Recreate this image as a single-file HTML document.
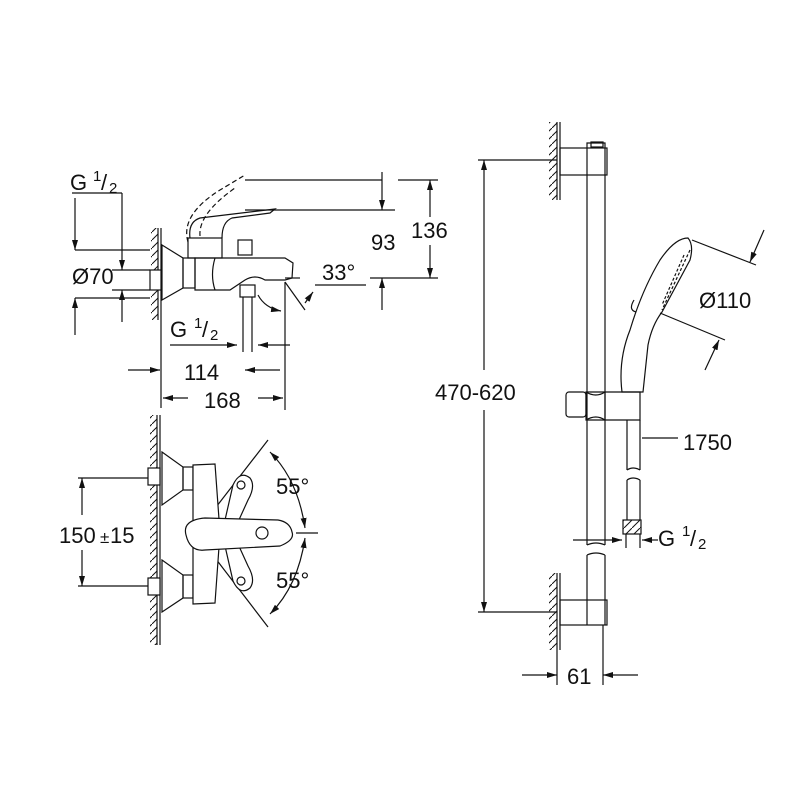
<!DOCTYPE html>
<html><head><style>body{margin:0;background:#fff}svg{display:block}text{font-family:"Liberation Sans",sans-serif;fill:#111}</style></head><body>
<svg width="800" height="800" viewBox="0 0 800 800" xmlns="http://www.w3.org/2000/svg">
<defs><marker id="a" viewBox="0 0 10 6" refX="10" refY="3" markerWidth="10" markerHeight="6" orient="auto-start-reverse" markerUnits="userSpaceOnUse"><path d="M0,0L10,3L0,6z" fill="#111"/></marker>
<pattern id="h" width="8" height="8" patternUnits="userSpaceOnUse"><path d="M0,8L8,0" stroke="#111" stroke-width="1"/></pattern></defs>
<g stroke="#111" stroke-width="1.2" fill="none">
<!-- upper mixer side view -->
<rect x="151" y="228" width="7" height="92" fill="url(#h)" stroke="none"/>
<line x1="158" y1="228" x2="158" y2="320"/><line x1="161" y1="228" x2="161" y2="320"/>
<rect x="150" y="270" width="11" height="20" fill="#fff"/>
<path d="M162,245L183,258L183,288L162,300Z"/>
<rect x="183" y="258" width="12" height="30"/>
<path d="M195,258H285L293,263L292,278L285,280H265Q255,274 245,280L230,290H195Z"/>
<path d="M215,258Q210,275 215,290"/>
<rect x="188" y="238" width="34" height="20"/>
<path d="M190,238Q188,222 200,218L275,209L270,213L232,218Q222,222 222,238"/>
<path d="M188,242Q180,215 220,190L245,175" stroke-dasharray="5,3"/>
<path d="M200,236Q198,214 235,188" stroke-dasharray="5,3"/>
<rect x="238" y="240" width="14" height="15"/>
<rect x="240" y="285" width="15" height="12"/>
<line x1="243" y1="297" x2="243" y2="352"/><line x1="252" y1="297" x2="252" y2="352"/>
<!-- dims upper -->
<line x1="75" y1="250" x2="150" y2="250"/><line x1="75" y1="298" x2="150" y2="298"/>
<line x1="75" y1="198" x2="75" y2="250" marker-end="url(#a)"/><line x1="75" y1="335" x2="75" y2="298" marker-end="url(#a)"/>
<line x1="72" y1="193" x2="122" y2="193"/><line x1="122" y1="193" x2="122" y2="270" marker-end="url(#a)"/>
<line x1="122" y1="322" x2="122" y2="290" marker-end="url(#a)"/>
<line x1="112" y1="270" x2="150" y2="270"/><line x1="112" y1="290" x2="150" y2="290"/>
<line x1="245" y1="180" x2="382" y2="180"/><line x1="245" y1="210" x2="395" y2="210"/>
<line x1="382" y1="172" x2="382" y2="210" marker-end="url(#a)"/>
<line x1="398" y1="180" x2="438" y2="180"/><line x1="430" y1="180" x2="430" y2="217" marker-start="url(#a)"/>
<line x1="430" y1="245" x2="430" y2="278" marker-end="url(#a)"/>
<line x1="285" y1="278" x2="300" y2="278"/><line x1="370" y1="278" x2="438" y2="278"/>
<line x1="382" y1="310" x2="382" y2="278" marker-end="url(#a)"/>
<path d="M285,282L305,310"/><line x1="315" y1="285" x2="366" y2="285"/>
<line x1="313" y1="292" x2="305" y2="303" marker-start="url(#a)"/>
<path d="M258,295Q265,308 281,311" marker-end="url(#a)"/>
<line x1="285" y1="282" x2="285" y2="410"/>
<line x1="170" y1="345" x2="237" y2="345" marker-end="url(#a)"/><line x1="290" y1="345" x2="258" y2="345" marker-end="url(#a)"/>
<line x1="128" y1="370" x2="160" y2="370" marker-end="url(#a)"/><line x1="280" y1="370" x2="245" y2="370" marker-end="url(#a)"/>
<line x1="161" y1="320" x2="161" y2="408"/>
<line x1="188" y1="398" x2="163" y2="398" marker-end="url(#a)"/><line x1="258" y1="398" x2="283" y2="398" marker-end="url(#a)"/>
<!-- lower mixer top view -->
<rect x="150" y="415" width="7" height="230" fill="url(#h)" stroke="none"/>
<line x1="157" y1="415" x2="157" y2="645"/><line x1="160" y1="415" x2="160" y2="645"/>
<rect x="148" y="468" width="12" height="17" fill="#fff"/><rect x="148" y="578" width="12" height="17" fill="#fff"/>
<path d="M162,452L183,467L183,490L162,505Z"/><path d="M162,560L183,575L183,598L162,612Z"/>
<rect x="183" y="467" width="10" height="23"/><rect x="183" y="575" width="10" height="23"/>
<line x1="196" y1="533" x2="268" y2="440"/><line x1="196" y1="533" x2="268" y2="627"/>
<path d="M193,465L215,464L220,533L215,603L193,604Z" fill="#fff"/>
<path d="M225,520L233,485Q240,470 250,478Q256,486 248,500L238,522Z" fill="#fff"/>
<path d="M225,546L233,581Q240,596 250,588Q256,580 248,566L238,544Z" fill="#fff"/>
<circle cx="241" cy="485" r="4"/><circle cx="241" cy="581" r="4"/>
<path d="M205,518Q182,520 186,535Q190,552 205,550L280,546Q295,540 292,532Q290,522 278,520Z" fill="#fff"/>
<circle cx="262" cy="533" r="6"/>
<line x1="296" y1="533" x2="318" y2="533"/>
<path d="M270,452Q298,480 305,528" marker-start="url(#a)" marker-end="url(#a)"/>
<path d="M270,614Q298,586 305,538" marker-start="url(#a)" marker-end="url(#a)"/>
<line x1="78" y1="478" x2="148" y2="478"/><line x1="78" y1="586" x2="148" y2="586"/>
<line x1="82" y1="515" x2="82" y2="478" marker-end="url(#a)"/><line x1="82" y1="550" x2="82" y2="586" marker-end="url(#a)"/>
<!-- shower rail -->
<rect x="549" y="122" width="8" height="78" fill="url(#h)" stroke="none"/>
<line x1="557" y1="122" x2="557" y2="200"/><line x1="560" y1="122" x2="560" y2="200"/>
<rect x="549" y="573" width="8" height="77" fill="url(#h)" stroke="none"/>
<line x1="557" y1="573" x2="557" y2="650"/><line x1="560" y1="573" x2="560" y2="650"/>
<rect x="560" y="148" width="47" height="27"/><rect x="560" y="600" width="47" height="25"/>
<path d="M587,545V143H605V545"/><path d="M587,545Q596,541 605,545"/>
<path d="M587,555V625M605,555V625"/><path d="M587,555Q596,551 605,555"/>
<rect x="591" y="142" width="12" height="5"/>
<rect x="566" y="392" width="20" height="25" rx="3"/>
<path d="M586,392H640V420H586Z"/><path d="M586,392Q596,398 605,392M586,420Q596,414 605,420"/><line x1="605" y1="392" x2="605" y2="420"/>
<path d="M627,420V470M640,420V470M627,470Q633,466 640,470M627,480V520M640,480V520M627,480Q633,476 640,480"/>
<rect x="623" y="520" width="18" height="14" fill="url(#h)"/>
<line x1="626" y1="534" x2="626" y2="548"/><line x1="640" y1="534" x2="640" y2="548"/>
<path d="M622,392Q618,360 630,330Q642,290 660,260Q675,238 688,238Q694,245 690,260L662,312Q652,325 648,345L643,392Z"/>
<path d="M690,250L662,310M684,255L662,305" stroke-dasharray="3,2"/>
<path d="M634,300Q628,310 636,312"/>
<line x1="692" y1="240" x2="756" y2="265"/><line x1="660" y1="313" x2="725" y2="340"/>
<line x1="764" y1="230" x2="750" y2="262" marker-end="url(#a)"/>
<line x1="705" y1="370" x2="719" y2="340" marker-end="url(#a)"/>
<line x1="642" y1="438" x2="678" y2="438"/>
<line x1="478" y1="160" x2="557" y2="160"/><line x1="478" y1="612" x2="557" y2="612"/>
<line x1="484" y1="370" x2="484" y2="160" marker-end="url(#a)"/><line x1="484" y1="410" x2="484" y2="612" marker-end="url(#a)"/>
<line x1="573" y1="540" x2="622" y2="540" marker-end="url(#a)"/><line x1="658" y1="540" x2="642" y2="540" marker-end="url(#a)"/>
<line x1="557" y1="650" x2="557" y2="685"/><line x1="603" y1="625" x2="603" y2="685"/>
<line x1="522" y1="675" x2="557" y2="675" marker-end="url(#a)"/><line x1="638" y1="675" x2="603" y2="675" marker-end="url(#a)"/>
</g>
<g font-size="22">
<text x="70" y="190">G</text><text x="93" y="181" font-size="15">1</text><text x="101" y="190">/</text><text x="109" y="193" font-size="15">2</text>
<text x="72" y="284">Ø70</text>
<text x="411" y="238">136</text><text x="371" y="250">93</text><text x="322" y="280">33°</text>
<text x="170" y="337">G</text><text x="194" y="328" font-size="15">1</text><text x="202" y="337">/</text><text x="210" y="340" font-size="15">2</text>
<text x="184" y="380">114</text><text x="204" y="408">168</text>
<text x="276" y="494">55°</text><text x="276" y="588">55°</text>
<text x="59" y="543">150</text><text x="100" y="543" font-size="17">±</text><text x="110" y="543">15</text>
<text x="435" y="400">470-620</text>
<text x="699" y="308">Ø110</text><text x="683" y="450">1750</text>
<text x="658" y="546">G</text><text x="682" y="536" font-size="15">1</text><text x="690" y="546">/</text><text x="698" y="549" font-size="15">2</text>
<text x="567" y="684">61</text>
</g>
</svg>
</body></html>
